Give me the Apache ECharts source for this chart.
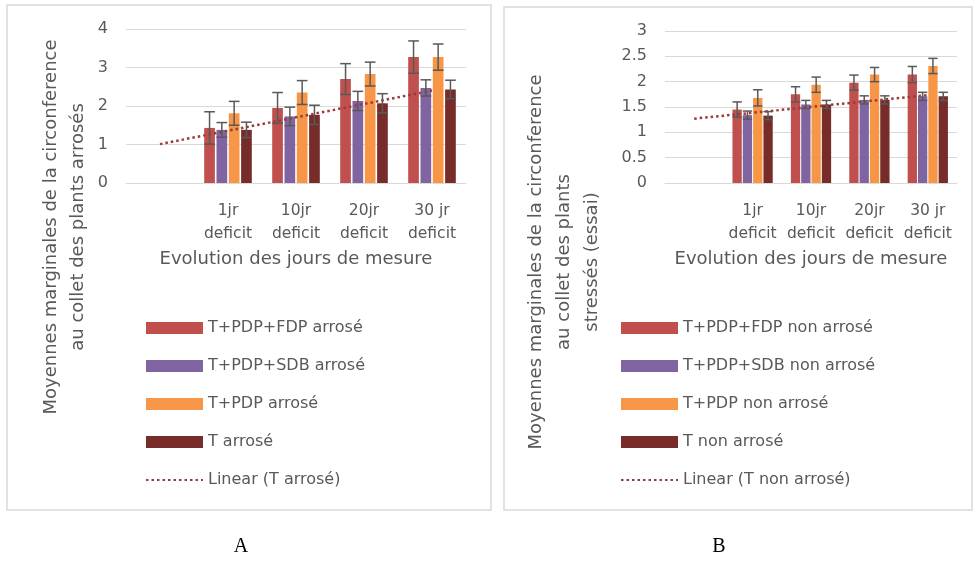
<!DOCTYPE html>
<html>
<head>
<meta charset="utf-8">
<script src="https://cdn.jsdelivr.net/npm/echarts@6/dist/echarts.min.js"></script>
<style>
    html, body { margin: 0; background: #fff; }
    #main { width: 977px; height: 561px; }
</style>
</head>
<body>
<div id="main"></div>
<script>
// categories (first one is empty, as in the original sheet)
var categories = ['', '1jr\ndeficit', '10jr\ndeficit', '20jr\ndeficit', '30 jr\ndeficit'];

// A : plants arrosés
var namesA = ['T+PDP+FDP arrosé', 'T+PDP+SDB arrosé', 'T+PDP arrosé', 'T arrosé'];
var fdpA = [1.43, 1.95, 2.70, 3.27];
var sdbA = [1.38, 1.73, 2.13, 2.47];
var pdpA = [1.81, 2.35, 2.83, 3.27];
var tA = [1.38, 1.77, 2.07, 2.43];
var fdpErrA = [0.42, 0.40, 0.40, 0.42];
var sdbErrA = [0.19, 0.24, 0.25, 0.21];
var pdpErrA = [0.31, 0.31, 0.31, 0.34];
var tErrA = [0.20, 0.25, 0.25, 0.24];
var trendA = [1.01, 2.40]; // start (empty category) / end (30 jr)

// B : plants stressés
var namesB = ['T+PDP+FDP non arrosé', 'T+PDP+SDB non arrosé', 'T+PDP non arrosé', 'T non arrosé'];
var fdpB = [1.45, 1.75, 1.98, 2.14];
var sdbB = [1.34, 1.55, 1.64, 1.71];
var pdpB = [1.68, 1.94, 2.14, 2.31];
var tB = [1.33, 1.55, 1.64, 1.71];
var fdpErrB = [0.15, 0.15, 0.15, 0.16];
var sdbErrB = [0.08, 0.08, 0.08, 0.08];
var pdpErrB = [0.16, 0.15, 0.14, 0.15];
var tErrB = [0.08, 0.08, 0.08, 0.08];
var trendB = [1.27, 1.735];

var colors = ['#C0504D', '#8064A2', '#F79646', '#772C2A'];
var trendColor = '#9B3C3A';
var textColor = '#595959';
var gridColor = '#D9D9D9';
var font = 'DejaVu Sans';

(function () {
    var myChart = echarts.init(document.getElementById('main'));

    // barres
    function barSeries(name, vals, k, gridIdx, w, gap) {
        return {
            name: name,
            type: 'bar',
            xAxisIndex: gridIdx,
            yAxisIndex: gridIdx,
            barWidth: w,
            barGap: gap,
            itemStyle: { color: colors[k] },
            z: 2,
            data: ['-'].concat(vals)
        };
    }

    // barres d'erreur
    function errSeries(vals, errs, k, gridIdx, w, gapPx) {
        var total = 4 * w + 3 * gapPx;
        var offset = -total / 2 + w / 2 + k * (w + gapPx);
        var data = vals.map(function (v, i) { return [i + 1, v, errs[i]]; });
        return {
            name: 'err' + gridIdx + k,
            type: 'custom',
            xAxisIndex: gridIdx,
            yAxisIndex: gridIdx,
            z: 5,
            silent: true,
            renderItem: function (params, api) {
                var c = api.value(0), v = api.value(1), e = api.value(2);
                var top = api.coord([c, v + e]);
                var bot = api.coord([c, v - e]);
                var x = top[0] + offset;
                var hw = w / 2;
                var st = { stroke: '#595959', lineWidth: 1.5 };
                return {
                    type: 'group',
                    children: [
                        { type: 'line', shape: { x1: x, y1: top[1], x2: x, y2: bot[1] }, style: st },
                        { type: 'line', shape: { x1: x - hw, y1: top[1], x2: x + hw, y2: top[1] }, style: st },
                        { type: 'line', shape: { x1: x - hw, y1: bot[1], x2: x + hw, y2: bot[1] }, style: st }
                    ]
                };
            },
            data: data
        };
    }

    function trendSeries(name, ends, gridIdx) {
        return {
            name: name,
            type: 'line',
            xAxisIndex: gridIdx,
            yAxisIndex: gridIdx,
            symbol: 'none',
            z: 4,
            itemStyle: { color: trendColor },
            lineStyle: { color: trendColor, width: 2.5, type: [2.5, 3] },
            data: [[0, ends[0]], [categories.length - 1, ends[1]]]
        };
    }

    function xAxis(gridIdx) {
        return {
            type: 'category',
            gridIndex: gridIdx,
            data: categories,
            axisTick: { show: false },
            axisLine: { lineStyle: { color: gridColor, width: 1 } },
            axisLabel: {
                color: textColor, fontSize: 15.5, fontFamily: font,
                lineHeight: 23, margin: 16, interval: 0
            },
            name: 'Evolution des jours de mesure',
            nameLocation: 'middle',
            nameGap: 67,
            nameTextStyle: { color: textColor, fontSize: 18, fontFamily: font }
        };
    }

    function yAxis(gridIdx, max, interval) {
        return {
            type: 'value',
            gridIndex: gridIdx,
            min: 0,
            max: max,
            interval: interval,
            axisLine: { show: false },
            axisTick: { show: false },
            axisLabel: { color: textColor, fontSize: 16, fontFamily: font, margin: 18 },
            splitLine: { lineStyle: { color: gridColor, width: 1 } }
        };
    }

    function legend(names, trendName, left) {
        return {
            orient: 'vertical',
            left: left,
            top: 318,
            padding: 0,
            itemWidth: 57,
            itemHeight: 12,
            itemGap: 18,
            textStyle: { color: textColor, fontSize: 16, fontFamily: font, lineHeight: 20 },
            data: names.map(function (n) { return { name: n, icon: 'rect' }; })
                // ligne de tendance : pointillés seuls, sans symbole
                .concat([{ name: trendName, itemStyle: { opacity: 0 } }])
        };
    }

    var wA = 10.7, gA = 1.6, wB = 9.3, gB = 1;

    var series = [
        barSeries(namesA[0], fdpA, 0, 0, wA, '15%'),
        barSeries(namesA[1], sdbA, 1, 0, wA, '15%'),
        barSeries(namesA[2], pdpA, 2, 0, wA, '15%'),
        barSeries(namesA[3], tA, 3, 0, wA, '15%'),
        errSeries(fdpA, fdpErrA, 0, 0, wA, gA),
        errSeries(sdbA, sdbErrA, 1, 0, wA, gA),
        errSeries(pdpA, pdpErrA, 2, 0, wA, gA),
        errSeries(tA, tErrA, 3, 0, wA, gA),
        trendSeries('Linear (T arrosé)', trendA, 0),

        barSeries(namesB[0], fdpB, 0, 1, wB, '11%'),
        barSeries(namesB[1], sdbB, 1, 1, wB, '11%'),
        barSeries(namesB[2], pdpB, 2, 1, wB, '11%'),
        barSeries(namesB[3], tB, 3, 1, wB, '11%'),
        errSeries(fdpB, fdpErrB, 0, 1, wB, gB),
        errSeries(sdbB, sdbErrB, 1, 1, wB, gB),
        errSeries(pdpB, pdpErrB, 2, 1, wB, gB),
        errSeries(tB, tErrB, 3, 1, wB, gB),
        trendSeries('Linear (T non arrosé)', trendB, 1)
    ];

    var option = {
        animation: false,
        backgroundColor: '#fff',
        grid: [
            { left: 126, right: 977 - 466, top: 29, bottom: 561 - 183 },
            { left: 665, right: 977 - 957, top: 31, bottom: 561 - 183 }
        ],
        xAxis: [xAxis(0), xAxis(1)],
        yAxis: [yAxis(0, 4, 1), yAxis(1, 3, 0.5)],
        legend: [
            legend(namesA, 'Linear (T arrosé)', 145),
            legend(namesB, 'Linear (T non arrosé)', 620)
        ],
        graphic: [
            // cadres
            { type: 'rect', shape: { x: 7, y: 5, width: 484, height: 505 },
              style: { fill: 'none', stroke: gridColor, lineWidth: 1.5 }, z: 0 },
            { type: 'rect', shape: { x: 504, y: 7, width: 468, height: 503 },
              style: { fill: 'none', stroke: gridColor, lineWidth: 1.5 }, z: 0 },
            // titres des axes verticaux
            { type: 'text', x: 65, y: 227, rotation: Math.PI / 2,
              style: { text: 'Moyennes marginales de la circonference\nau collet des plants arrosés',
                       align: 'center', verticalAlign: 'middle', fill: textColor,
                       font: '18px "' + font + '"', lineHeight: 27 } },
            { type: 'text', x: 564, y: 262, rotation: Math.PI / 2,
              style: { text: 'Moyennes marginales de la circonference\nau collet des plants\nstressés (essai)',
                       align: 'center', verticalAlign: 'middle', fill: textColor,
                       font: '18px "' + font + '"', lineHeight: 28 } },
            // lettres A / B
            { type: 'text', x: 241, y: 547,
              style: { text: 'A', align: 'center', verticalAlign: 'middle', fill: '#000',
                       font: '20px "Liberation Serif"' } },
            { type: 'text', x: 719, y: 547,
              style: { text: 'B', align: 'center', verticalAlign: 'middle', fill: '#000',
                       font: '20px "Liberation Serif"' } }
        ],
        series: series
    };

    window.addEventListener('resize', function () {
        myChart.resize();
    });

    myChart.setOption(option);
})();
</script>
</body>
</html>
